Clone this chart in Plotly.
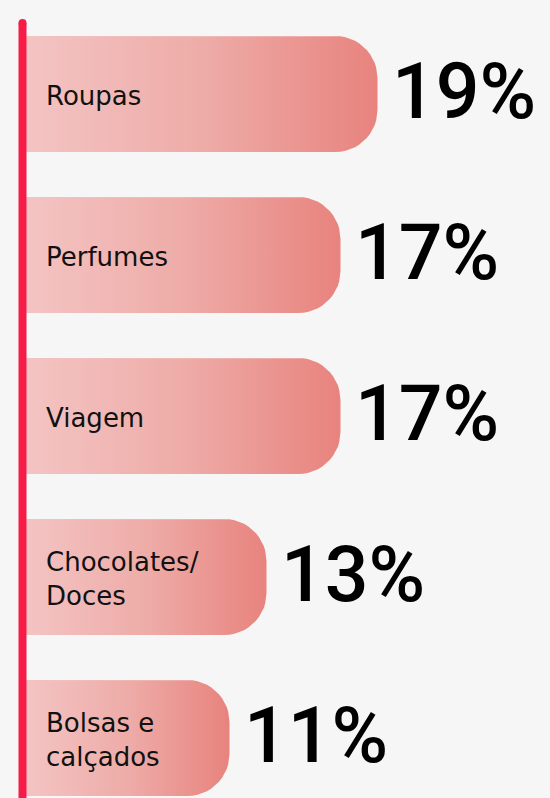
import plotly.graph_objects as go
import numpy as np

categories = ["Roupas", "Perfumes", "Viagem", "Chocolates/<br>Doces", "Bolsas e<br>calçados"]
values = [19, 17, 17, 13, 11]
value_labels = ["19%", "17%", "17%", "13%", "11%"]

W, H = 550, 798
PX_PER_UNIT = 18.5      # x pixels per percentage point
X0_PX = 26              # pixel where value 0 sits
PITCH = 161             # pixels between bar centres
FIRST_C = 94            # pixel centre of first bar
BAR_H_PX = 116
RAD_PX = 42
BG = "#f6f6f6"

x_range = [-X0_PX / PX_PER_UNIT, (W - X0_PX) / PX_PER_UNIT]
y_range = [(H - FIRST_C) / PITCH, -FIRST_C / PITCH]

def rounded_bar(v, i):
    hh = BAR_H_PX / 2 / PITCH
    rx = RAD_PX / PX_PER_UNIT
    ry = RAD_PX / PITCH
    xs, ys = [0, v - rx], [i - hh, i - hh]
    t = np.linspace(-np.pi / 2, 0, 14)
    xs += list(v - rx + rx * np.cos(t)); ys += list(i - hh + ry + ry * np.sin(t))
    t = np.linspace(0, np.pi / 2, 14)
    xs += list(v - rx + rx * np.cos(t)); ys += list(i + hh - ry + ry * np.sin(t))
    xs += [v - rx, 0, 0]; ys += [i + hh, i + hh, i - hh]
    return xs, ys

fig = go.Figure()
for i, (c, v) in enumerate(zip(categories, values)):
    xs, ys = rounded_bar(v, i)
    fig.add_trace(go.Scatter(
        x=xs, y=ys, mode="lines", fill="toself", line=dict(width=0),
        fillgradient=dict(type="horizontal",
                          colorscale=[[0, "#f3c4c3"], [0.5, "#eeaca8"], [1, "#e8837e"]]),
        hoverinfo="skip", showlegend=False))
    fig.add_annotation(x=0, y=i, xref="x", yref="y", text=c, showarrow=False,
                       xanchor="left", yanchor="middle", align="left", xshift=18, yshift=-2,
                       font=dict(family="DejaVu Sans", size=26, color="#111"))
    fig.add_annotation(x=v, y=i, xref="x", yref="y", text=value_labels[i], showarrow=False,
                       xanchor="left", yanchor="middle", xshift=12, yshift=2,
                       font=dict(family="Roboto", size=77, color="#000", weight=500))

# red vertical line
lx = 22.5 / W
fig.add_shape(type="line", xref="paper", yref="paper", x0=lx, x1=lx,
              y0=1 - 23 / H, y1=0, line=dict(color="#f51d47", width=8))
fig.add_shape(type="circle", xref="paper", yref="paper",
              x0=18.5 / W, x1=26.5 / W, y0=1 - 27 / H, y1=1 - 19 / H,
              line=dict(width=0), fillcolor="#f51d47")

fig.update_layout(
    width=W, height=H, margin=dict(l=0, r=0, t=0, b=0),
    paper_bgcolor=BG, plot_bgcolor=BG,
    xaxis=dict(range=x_range, visible=False, fixedrange=True),
    yaxis=dict(range=y_range, visible=False, fixedrange=True),
    showlegend=False,
)
fig.write_html("out.html", config={"displayModeBar": False},
               post_script="document.body.style.margin='0';document.body.style.background='#f6f6f6';")
